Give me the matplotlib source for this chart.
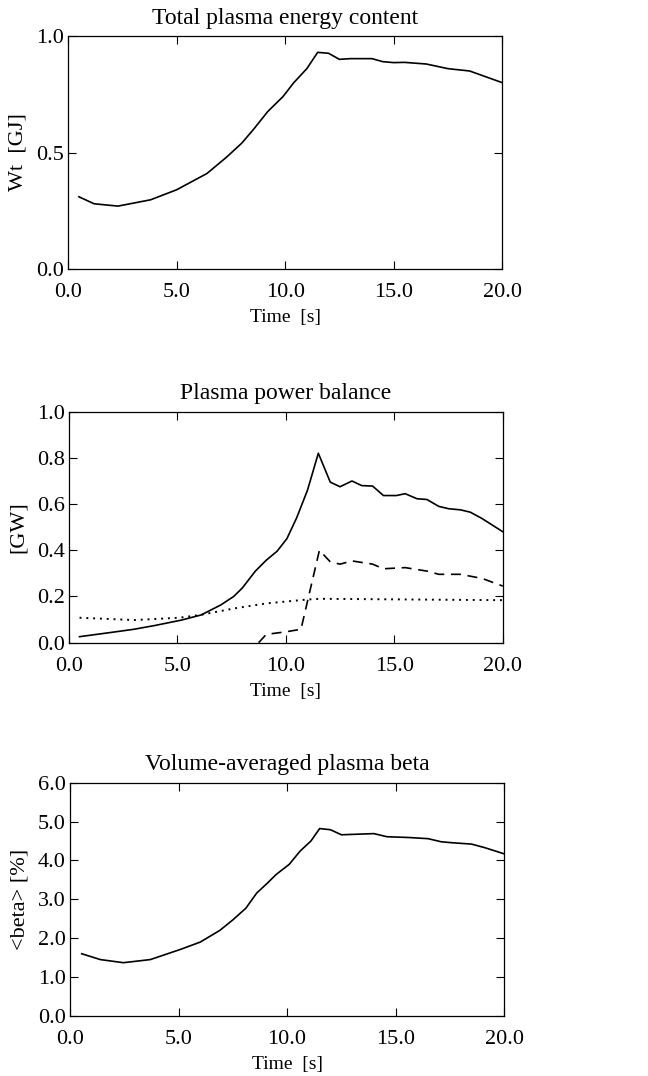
import matplotlib.pyplot as plt

plt.rcParams['font.family'] = ['Liberation Serif', 'DejaVu Serif']

# Total plasma energy content
t_wt = [0.5, 1.2, 2.3, 3.8, 5.0, 6.4, 7.3, 8.0, 8.55, 9.2, 9.9, 10.4, 11.0, 11.5,
        12.0, 12.5, 13.0, 14.0, 14.5, 15.0, 15.5, 16.5, 17.5, 18.5, 19.1, 20.0]
wt = [0.31, 0.28, 0.27, 0.297, 0.34, 0.41, 0.48, 0.54, 0.60, 0.676, 0.74, 0.80, 0.86, 0.93,
      0.926, 0.90, 0.903, 0.903, 0.89, 0.886, 0.887, 0.88, 0.86, 0.85, 0.83, 0.80]

# Plasma power balance
t_p1 = [0.5, 2.0, 3.0, 4.0, 5.2, 6.1, 7.0, 7.6, 8.0, 8.6, 9.1, 9.6, 10.05, 10.5, 11.0, 11.5,
        12.05, 12.5, 13.05, 13.5, 14.0, 14.5, 15.1, 15.5, 16.05, 16.5, 17.05, 17.5, 18.05,
        18.5, 19.05, 20.0]
p1 = [0.026, 0.045, 0.058, 0.075, 0.098, 0.12, 0.163, 0.20, 0.237, 0.31, 0.357, 0.396, 0.45,
      0.54, 0.66, 0.82, 0.695, 0.675, 0.70, 0.68, 0.678, 0.637, 0.637, 0.645, 0.623, 0.62,
      0.59, 0.58, 0.575, 0.565, 0.537, 0.48]
t_p2 = [8.75, 9.1, 10.0, 10.7, 11.55, 12.05, 12.5, 13.05, 14.0, 14.5, 15.5, 16.5, 17.05,
        18.05, 19.05, 20.0]
p2 = [0.0, 0.036, 0.047, 0.058, 0.40, 0.35, 0.34, 0.354, 0.34, 0.32, 0.325, 0.31, 0.296,
      0.296, 0.278, 0.245]
t_p3 = [0.5, 3.0, 5.1, 6.05, 7.6, 9.1, 11.0, 11.6, 20.0]
p3 = [0.108, 0.098, 0.108, 0.12, 0.148, 0.17, 0.187, 0.19, 0.184]

# Volume-averaged plasma beta
t_b = [0.54, 1.4, 2.46, 3.7, 5.08, 6.0, 6.9, 7.5, 8.1, 8.6, 9.1, 9.5, 10.1, 10.6, 11.1, 11.5,
       12.0, 12.5, 14.0, 14.6, 15.6, 16.5, 17.1, 17.5, 18.5, 19.1, 20.0]
beta = [1.60, 1.45, 1.37, 1.45, 1.71, 1.90, 2.2, 2.47, 2.77, 3.16, 3.42, 3.64, 3.90, 4.24,
        4.50, 4.82, 4.79, 4.66, 4.69, 4.61, 4.59, 4.56, 4.48, 4.46, 4.42, 4.33, 4.17]

fig = plt.figure(figsize=(6.48, 10.76), dpi=100)

ax1 = fig.add_axes([0.105, 0.750, 0.670, 0.2165])
ax2 = fig.add_axes([0.106, 0.4027, 0.670, 0.2147])
ax3 = fig.add_axes([0.108, 0.0558, 0.670, 0.2168])

lw = 1.2
ax1.plot(t_wt, wt, color='black', lw=lw)
ax2.plot(t_p1, p1, color='black', lw=lw)
ax2.plot(t_p2, p2, color='black', lw=lw, ls=(0, (6, 4)))
ax2.plot(t_p3, p3, color='black', lw=1.4, ls=(0, (1, 2.5)))
ax3.plot(t_b, beta, color='black', lw=lw)

ax1.set_ylim(0, 1.0)
ax1.set_yticks([0.0, 0.5, 1.0])
ax2.set_ylim(0, 1.0)
ax2.set_yticks([0.0, 0.2, 0.4, 0.6, 0.8, 1.0])
ax3.set_ylim(0, 6.0)
ax3.set_yticks([0, 1, 2, 3, 4, 5, 6])

titles = ['Total plasma energy content', 'Plasma power balance', 'Volume-averaged plasma beta']
ylabels = ['Wt  [GJ]', '[GW]', '<beta> [%]']
for ax, title, yl in zip([ax1, ax2, ax3], titles, ylabels):
    ax.set_xlim(0, 20)
    ax.set_xticks([0, 5, 10, 15, 20])
    ax.xaxis.set_major_formatter(plt.FormatStrFormatter('%.1f'))
    ax.yaxis.set_major_formatter(plt.FormatStrFormatter('%.1f'))
    ax.tick_params(direction='in', top=True, right=True, length=6, width=0.8,
                   labelsize=16)
    ax.tick_params(axis='x', pad=10)
    ax.tick_params(axis='y', pad=3)
    ax.set_title(title, fontsize=17, pad=9)
    ax.set_xlabel('Time  [s]', fontsize=14, labelpad=5)
    ax.set_ylabel(yl, fontsize=16, labelpad=6)
    for s in ax.spines.values():
        s.set_linewidth(0.9)

fig.savefig('out.png', dpi=100)
